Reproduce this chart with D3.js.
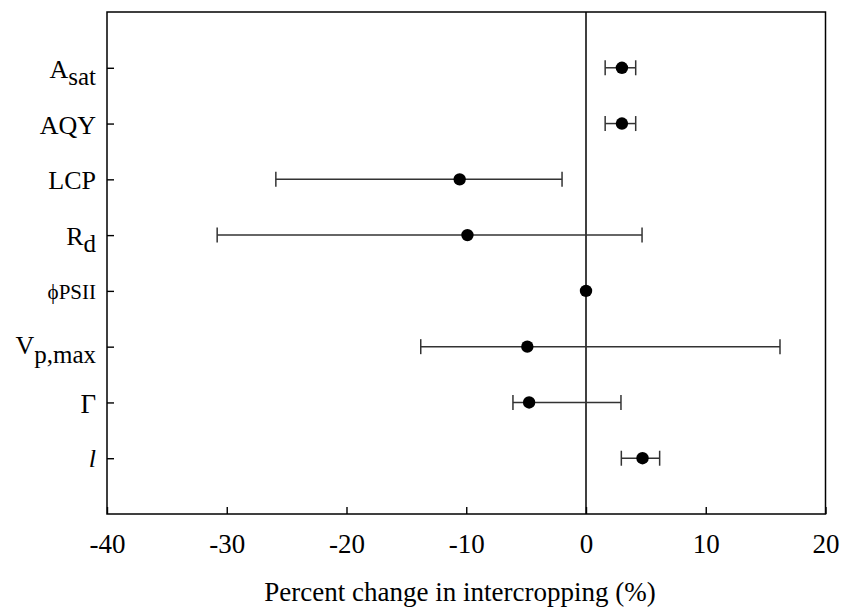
<!DOCTYPE html>
<html><head><meta charset="utf-8">
<script src="https://cdn.jsdelivr.net/npm/d3@7"></script>
<style>body{margin:0;background:#fff}svg{display:block}text{font-family:"Liberation Serif","Times New Roman",serif;fill:#000}</style>
</head><body><svg id="c" width="841" height="608"></svg>
<script>
const categories = ["Asat","AQY","LCP","Rd","phiPSII","Vpmax","Gamma","l"];
const means = [3.0, 3.0, -10.55, -9.9, 0.0, -4.9, -4.75, 4.72];
const lower = [1.6, 1.6, -25.9, -30.8, null, -13.8, -6.1, 2.95];
const upper = [4.15, 4.15, -2.0, 4.68, null, 16.2, 2.92, 6.15];
const xTicks = [-40,-30,-20,-10,0,10,20];
const xLabel = "Percent change in intercropping (%)";

const svg = d3.select("#c");
const L=107, R=825.5, T=12, B=514;
const x = d3.scaleLinear().domain([-40,20]).range([L,R]);
const y = d3.scalePoint().domain(categories).range([T,B]).padding(1);

// x axis ticks (inward) and labels
const xa = svg.append("g").attr("transform",`translate(0,${B})`)
  .call(d3.axisBottom(x).tickValues(xTicks).tickSize(-7).tickPadding(20).tickFormat(d3.format("d")));
xa.select(".domain").remove();
xa.selectAll("line").attr("stroke","#000").attr("stroke-width",1.4);
xa.selectAll("text").attr("dy",null).attr("y",39).style("font-size","27px").attr("fill","#000")
  .text(d=>d<0?"-"+Math.abs(d):d);

// y ticks inward
const ya = svg.append("g").attr("transform",`translate(${L},0)`)
  .call(d3.axisLeft(y).tickSize(-7).tickFormat(""));
ya.select(".domain").remove();
ya.selectAll("line").attr("stroke","#000").attr("stroke-width",1.4);

// y labels with subscripts
const lab = svg.append("g");
function addLabel(cat, off, parts){
  const t = lab.append("text").attr("x",96).attr("y",y(cat)+off).attr("text-anchor","end");
  parts.forEach(p=>{
    const s=t.append("tspan").text(p.t).style("font-size",(p.fs||26)+"px");
    if(p.dy) s.attr("dy",p.dy);
    if(p.it) s.style("font-style","italic");
  });
}
addLabel("Asat",10,[{t:"A"},{t:"sat",dy:7.5,fs:25}]);
addLabel("AQY",10,[{t:"AQY"}]);
addLabel("LCP",10,[{t:"LCP"}]);
addLabel("Rd",9.5,[{t:"R"},{t:"d",dy:7.5,fs:25}]);
addLabel("phiPSII",8.5,[{t:"\u03D5PSII",fs:21}]);
addLabel("Vpmax",7,[{t:"V"},{t:"p,max",dy:9,fs:25}]);
addLabel("Gamma",10.5,[{t:"\u0393",fs:27}]);
addLabel("l",8.5,[{t:"l",it:true}]);

// zero line
svg.append("line").attr("x1",x(0)).attr("x2",x(0)).attr("y1",T).attr("y2",B)
  .attr("stroke","#000").attr("stroke-width",1.5);

// frame
svg.append("rect").attr("x",L).attr("y",T).attr("width",R-L).attr("height",B-T)
  .attr("fill","none").attr("stroke","#000").attr("stroke-width",1.5);

// error bars
const eb = svg.append("g").attr("stroke","#333").attr("stroke-width",1.5);
categories.forEach((c,i)=>{
  if(lower[i]==null) return;
  const yy=y(c);
  eb.append("line").attr("x1",x(lower[i])).attr("x2",x(upper[i])).attr("y1",yy).attr("y2",yy);
  [lower[i],upper[i]].forEach(v=>{
    eb.append("line").attr("x1",x(v)).attr("x2",x(v)).attr("y1",yy-7.5).attr("y2",yy+7.5);
  });
});
// points
svg.append("g").selectAll("circle").data(categories).join("circle")
  .attr("cx",(c,i)=>x(means[i])).attr("cy",c=>y(c)).attr("r",6.2).attr("fill","#000");

// x label
svg.append("text").attr("x",460).attr("y",601).attr("text-anchor","middle")
  .style("font-size","27px").text(xLabel);
</script></body></html>
